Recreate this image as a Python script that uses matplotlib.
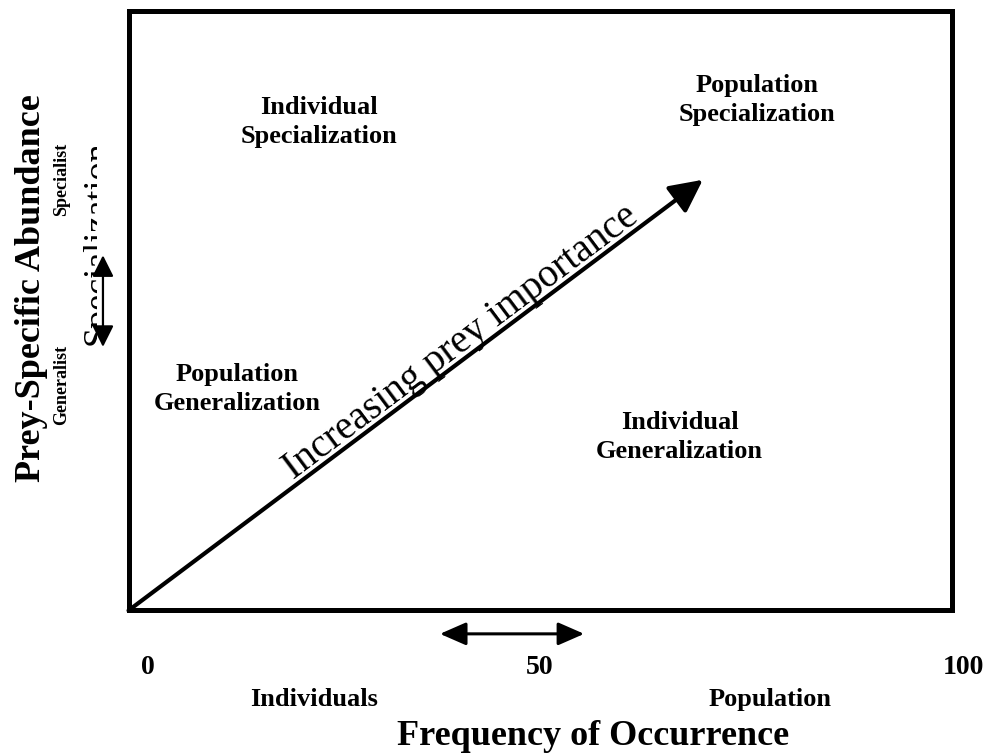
import matplotlib
matplotlib.use("Agg")
import numpy as np
import matplotlib.pyplot as plt
from matplotlib.transforms import Bbox, TransformedBbox

plt.rcParams['font.family'] = ['Liberation Serif', 'DejaVu Serif']

# --- Diagram content (axes units 0-100) ---
quadrant_labels = ["Individual\nSpecialization", "Population\nSpecialization",
                   "Population\nGeneralization", "Individual\nGeneralization"]
quadrant_x = [23.1, 76.3, 13.2, 66.9]
quadrant_y = [81.6, 85.2, 37.0, 29.0]

tick_labels = ["0", "50", "100"]
tick_x = [2.4, 49.9, 101.3]

end_labels = ["Individuals", "Population"]
end_x = [22.5, 77.9]

arrow_start = (0, 0)
arrow_end = (69.7, 71.9)
arrow_text = "Increasing prey importance"

h_arrow_x = [37.8, 55.3]
v_arrow_y = [44.0, 59.3]

side_labels = ["Specialist", "Generalist"]
side_y = [71.9, 37.6]


fig = plt.figure(figsize=(9.9, 7.55), dpi=100)
ax = fig.add_axes([0.1298, 0.1914, 0.8323, 0.7934])
ax.set_xlim(0, 100)
ax.set_ylim(0, 100)
ax.set_xticks([])
ax.set_yticks([])
for sp in ax.spines.values():
    sp.set_linewidth(3.6)
    sp.set_color('black')

bold = dict(fontweight='bold', color='black')

# quadrant labels
for lab, x, y in zip(quadrant_labels, quadrant_x, quadrant_y):
    ax.text(x, y, lab, ha='center', va='center', fontsize=19,
            linespacing=1.35, **bold)

# main diagonal arrow
ax.annotate('', xy=arrow_end, xytext=arrow_start,
            arrowprops=dict(arrowstyle='-|>,head_length=20,head_width=10',
                            mutation_scale=1, lw=3, color='black',
                            shrinkA=0, shrinkB=0))

# text along the arrow
fig.canvas.draw()
p0 = ax.transData.transform(arrow_start)
p1 = ax.transData.transform(arrow_end)
angle = np.degrees(np.arctan2(p1[1] - p0[1], p1[0] - p0[0]))
ax.text(41.1, 43.5, arrow_text, rotation=angle, rotation_mode='anchor',
        ha='center', va='baseline', fontsize=28.5, color='black')

# x-axis annotations
for lab, x in zip(tick_labels, tick_x):
    ax.text(x, -9.6, lab, ha='center', va='center', fontsize=20,
            clip_on=False, **bold)
for lab, x in zip(end_labels, end_x):
    ax.text(x, -14.8, lab, ha='center', va='center', fontsize=19,
            clip_on=False, **bold)
ax.text(56.4, -21.1, "Frequency of Occurrence", ha='center', va='center',
        fontsize=26, clip_on=False, **bold)

ax.annotate('', xy=(h_arrow_x[1], -3.9), xytext=(h_arrow_x[0], -3.9),
            annotation_clip=False,
            arrowprops=dict(arrowstyle='<|-|>,head_length=16,head_width=7',
                            mutation_scale=1, lw=2.2, color='black',
                            shrinkA=0, shrinkB=0))

# y-axis annotations
ax.text(-11.8, 53.8, "Prey-Specific Abundance", rotation=90, ha='center',
        va='center', fontsize=26, clip_on=False, **bold)
for lab, y in zip(side_labels, side_y):
    ax.text(-8.1, y, lab, rotation=90, ha='center', va='center',
            fontsize=13, clip_on=False, **bold)

# partly hidden "Specialization" label
t = ax.text(-2.6, 44.3, "Specialization", rotation=90, rotation_mode='anchor',
            ha='left', va='baseline', fontsize=26, color='black')
t.set_clip_on(True)
t.set_clip_box(TransformedBbox(Bbox([[-30, 0], [-3.8, 100]]), ax.transData))

ax.annotate('', xy=(-3.1, v_arrow_y[1]), xytext=(-3.1, v_arrow_y[0]),
            annotation_clip=False,
            arrowprops=dict(arrowstyle='<|-|>,head_length=13,head_width=6.5',
                            mutation_scale=1, lw=1.6, color='black',
                            shrinkA=0, shrinkB=0))

fig.savefig("out.png", dpi=100, facecolor='white')
